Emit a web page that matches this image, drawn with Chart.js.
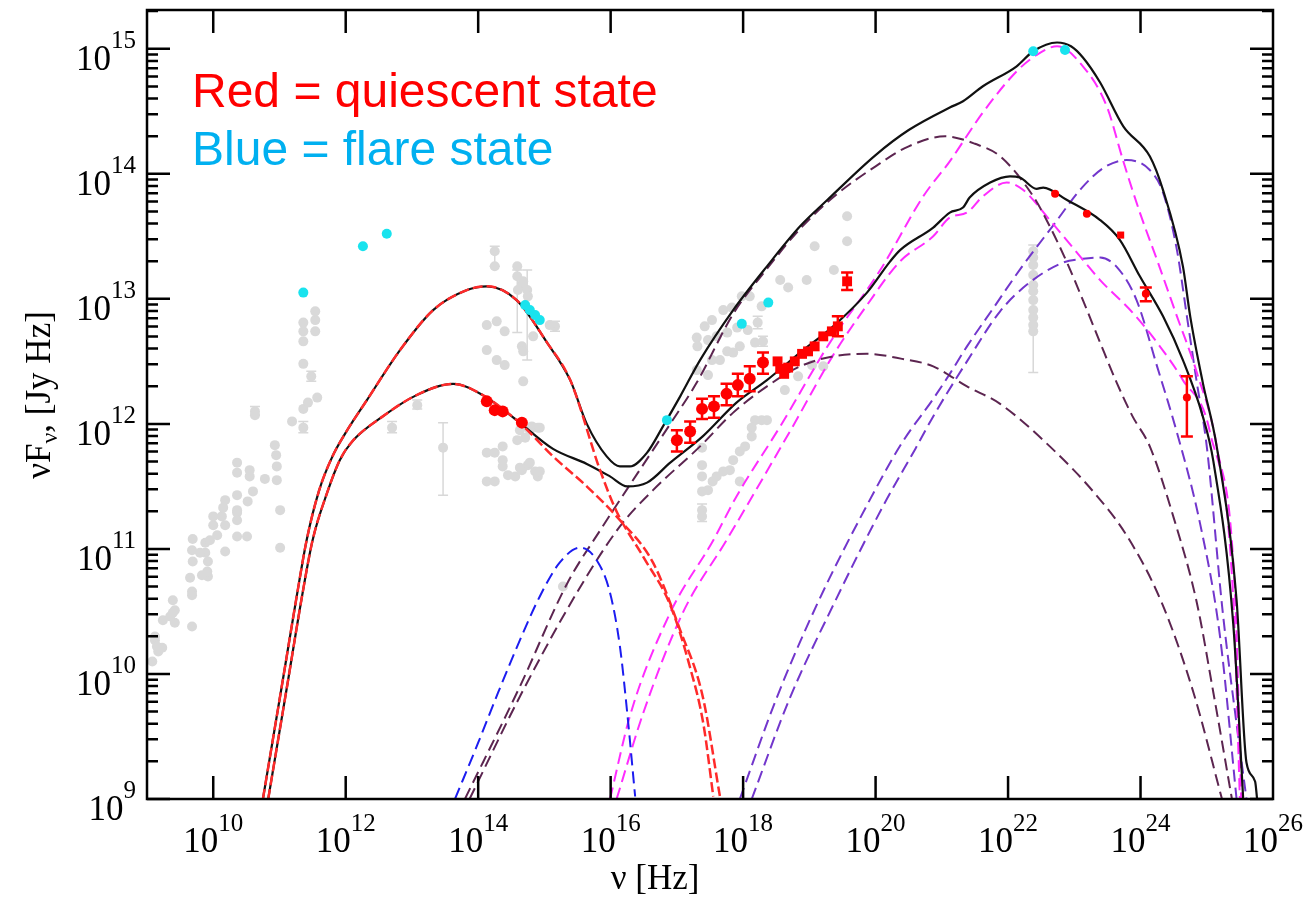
<!DOCTYPE html>
<html lang="en">
<head>
<meta charset="UTF-8">
<title>SED</title>
<style>
  body { margin: 0; background: #fff; }
  #wrap { width: 1306px; height: 897px; }
</style>
</head>
<body>
<div id="wrap"><canvas id="sed" width="1306" height="897"></canvas></div>
<script src="https://cdn.jsdelivr.net/npm/chart.js"></script>
<script>
// every value below is log10: nu in Hz, nuFnu in Jy Hz

// model curves
const flareTotNu = [10.75,11.05,11.26,11.41,11.6,11.8,12.0,12.32,12.82,13.32,13.83,14.13,14.58,15.04,15.39,15.64,15.94,16.14,16.29,16.55,16.79,17.05,17.35,17.85,18.36,18.86,19.27,20.0,20.5,21.12,21.32,21.62,22.13,22.38,22.74,22.95,23.13,23.39,23.74,24.14,24.34,24.64,24.75,24.94,25.15,25.45,25.6,25.73,25.76];
const flareTotF  = [9.0,9.95,10.62,11.07,11.47,11.74,11.93,12.19,12.59,12.91,13.07,13.1,12.99,12.65,12.35,12.0,11.74,11.66,11.66,11.77,11.98,12.22,12.51,12.91,13.26,13.58,13.79,14.15,14.35,14.53,14.58,14.7,14.86,14.98,15.05,15.02,14.93,14.73,14.38,14.14,13.87,13.26,12.86,12.33,11.82,10.59,9.29,9.14,9.0];

const quietTotNu = [10.83,11.13,11.34,11.5,11.72,11.91,12.1,12.56,13.07,13.62,14.07,14.58,15.13,15.64,15.99,16.25,16.55,16.9,17.39,17.9,18.36,18.86,19.36,19.87,20.22,20.37,20.87,21.12,21.32,21.42,21.73,22.03,22.18,22.43,22.53,22.89,23.39,23.69,23.99,24.34,24.64,24.94,25.1,25.4,25.55];
const quietTotF  = [9.0,9.95,10.62,11.07,11.45,11.71,11.86,12.06,12.23,12.32,12.23,12.03,11.8,11.68,11.58,11.5,11.53,11.69,11.9,12.17,12.35,12.57,12.78,13.05,13.3,13.39,13.57,13.69,13.73,13.81,13.93,13.98,13.97,13.88,13.89,13.79,13.63,13.47,13.18,12.86,12.51,12.06,11.7,10.4,9.0];

const flareSynNu = [10.75,11.05,11.26,11.41,11.6,11.8,12.0,12.32,12.82,13.32,13.83,14.13,14.58,15.04,15.39,15.84,16.09,16.5,16.9,17.2,17.4,17.55];
const flareSynF  = [9.0,9.95,10.62,11.07,11.47,11.74,11.93,12.19,12.59,12.91,13.07,13.1,12.99,12.65,12.35,11.63,11.3,10.93,10.55,10.05,9.6,9.02];

const quietSynNu = [10.83,11.13,11.34,11.5,11.72,11.91,12.1,12.56,13.07,13.62,14.07,14.58,14.78,15.13,15.64,16.14,16.64,17.05,17.39,17.65];
const quietSynF  = [9.0,9.95,10.62,11.07,11.45,11.71,11.86,12.06,12.23,12.32,12.23,12.03,11.93,11.74,11.5,11.23,10.89,10.35,9.82,9.02];

const diskNu = [13.65,14.0,14.3,14.63,14.93,15.23,15.54,15.79,15.99,16.14,16.25,16.37];
const diskF  = [9.0,9.45,9.85,10.27,10.62,10.89,11.01,10.91,10.65,10.22,9.69,9.02];

const flareSscNu = [13.8,14.63,15.34,15.88,16.4,16.9,17.3,17.85,18.36,18.86,19.4,20.0,20.5,21.05,21.5,21.88,22.38,22.63,22.89,23.13,23.39,23.64,23.88,24.14,24.5,24.85,25.1,25.38];
const flareSscF  = [9.0,9.9,10.72,11.18,11.6,12.0,12.33,12.88,13.24,13.56,13.83,14.06,14.22,14.3,14.24,14.14,13.82,13.58,13.29,12.99,12.65,12.33,12.06,11.82,11.25,10.57,9.85,9.0];

const quietSscNu = [13.87,14.63,15.49,16.14,16.64,17.35,17.85,18.36,18.86,19.36,19.87,20.4,20.87,21.38,21.88,22.63,23.3,23.8,24.32,24.8,25.23];
const quietSscF  = [9.0,9.82,10.65,11.18,11.47,11.82,12.09,12.3,12.46,12.54,12.56,12.52,12.46,12.3,12.16,11.82,11.45,11.1,10.57,9.85,9.0];

const flareEcNu = [15.99,16.3,16.9,17.55,17.9,18.56,19.31,20.07,20.72,21.12,21.62,22.13,22.43,22.74,23.13,23.49,23.74,23.99,24.25,24.55,24.85,25.15,25.43,25.52];
const flareEcF  = [9.0,9.68,10.49,11.07,11.42,11.98,12.65,13.23,13.82,14.1,14.49,14.82,14.95,15.02,14.86,14.54,14.1,13.69,13.31,12.86,12.41,11.82,10.6,9.0];

const quietEcNu = [16.09,16.5,17.09,17.75,18.75,19.36,19.87,20.37,20.87,21.12,21.38,21.62,21.98,22.23,22.63,23.04,23.39,23.88,24.25,24.64,25.05,25.4,25.5];
const quietEcF  = [9.0,9.7,10.49,11.07,11.98,12.55,12.95,13.3,13.5,13.65,13.69,13.82,13.93,13.87,13.63,13.37,13.15,12.89,12.65,12.35,11.93,10.6,9.0];

const flareEc2Nu = [17.95,18.5,19.11,19.87,20.4,20.87,21.12,21.38,21.77,22.2,22.7,23.1,23.45,23.79,24.14,24.34,24.55,24.7,24.85,25.0,25.24,25.45,25.6];
const flareEc2F  = [9.0,9.8,10.55,11.35,11.85,12.2,12.4,12.62,12.92,13.25,13.6,13.88,14.05,14.11,14.03,13.85,13.39,12.86,12.33,11.82,10.5,9.6,9.0];

const quietEc2Nu = [18.13,18.7,19.36,20.12,20.6,20.87,21.38,21.88,22.3,22.83,23.13,23.39,23.65,23.94,24.25,24.55,24.9,25.2,25.45];
const quietEc2F  = [9.0,9.8,10.55,11.35,11.8,12.06,12.5,12.9,13.12,13.29,13.32,13.33,13.25,12.99,12.46,11.93,11.2,10.3,9.0];

// archival data (grey)
const grayNu = [9.08,9.12,9.15,9.17,9.23,9.12,9.24,9.39,9.42,9.35,9.42,9.39,9.68,9.65,9.68,9.68,9.83,9.92,9.91,9.92,9.88,9.80,9.69,9.68,9.69,9.88,9.95,10.06,10.00,10.00,10.13,10.15,10.18,10.18,10.18,10.36,10.51,10.36,10.36,10.36,10.36,10.52,10.60,10.55,10.55,10.36,10.36,10.93,10.95,10.96,10.96,10.78,11.01,11.01,10.63,10.63,11.19,11.36,11.36,11.43,11.57,11.48,11.36,11.36,11.36,11.36,11.54,11.54,11.54,12.70,13.08,13.47,
  14.25,14.25,14.59,14.59,14.66,14.60,14.74,14.75,14.68,14.13,14.28,14.40,14.13,14.28,14.40,14.66,14.68,14.68,15.16,15.08,14.83,14.81,14.90,14.59,14.71,14.13,14.25,14.37,14.37,14.37,14.45,14.56,14.66,14.75,14.86,14.90,14.13,14.25,14.63,14.78,14.93,14.63,14.78,14.93,15.28,
  19.57,19.57,19.08,19.37,18.96,18.56,18.68,17.98,18.10,18.28,18.22,17.70,17.83,17.53,17.42,18.07,17.91,17.76,17.60,17.47,17.30,17.31,18.18,18.30,17.95,17.76,17.85,17.65,17.53,17.30,17.47,18.63,18.83,19.04,19.21,18.18,18.28,18.36,18.13,18.13,18.03,17.95,17.85,17.80,17.70,17.60,17.54,17.38,17.38,17.38,17.38,17.47,17.38,17.38,17.95,
  22.38,22.38,22.38,22.38,22.38,22.38,22.38,22.38,22.38,22.38,22.38];
const grayF = [10.1,10.27,10.22,10.18,10.21,10.30,10.43,10.49,10.41,10.46,10.51,10.59,10.38,10.77,10.66,10.63,10.79,10.78,10.82,10.90,10.97,10.97,10.90,10.99,11.08,11.05,11.07,11.11,11.19,11.26,11.26,11.33,11.39,11.19,10.98,11.10,11.10,11.29,11.23,11.43,11.61,11.38,11.46,11.58,11.63,11.69,11.31,11.83,11.75,11.66,11.55,11.56,11.31,11.01,12.10,12.07,12.02,11.97,12.12,12.17,12.21,12.38,12.48,12.66,12.74,12.81,12.74,12.83,12.90,11.97,12.15,11.81,
  13.38,13.26,13.26,13.18,13.11,13.07,13.07,13.02,13.14,12.79,12.82,12.74,12.59,12.51,12.47,12.62,12.58,12.34,12.78,12.79,12.70,11.98,11.97,11.87,11.89,11.77,11.77,11.82,11.71,11.66,11.59,11.58,11.63,11.67,11.62,11.58,11.54,11.54,11.95,11.95,11.97,11.65,11.69,11.62,10.70,
  13.66,13.46,13.42,13.23,13.15,13.15,13.09,13.02,13.02,12.94,12.81,12.91,12.93,12.83,12.78,12.75,12.77,12.73,12.70,12.67,12.69,12.62,12.65,12.66,12.62,12.58,12.57,12.51,12.51,12.43,12.39,12.27,12.38,12.47,12.46,12.03,12.03,12.03,11.97,11.90,11.82,11.78,11.71,11.63,11.62,11.58,11.54,11.81,11.67,11.58,11.46,11.47,11.31,11.26,11.54,
  13.38,13.33,13.27,13.19,13.11,13.06,12.99,12.91,12.85,12.79,12.74];
const grayErrNu = [12.70,13.08,13.47,14.59,14.74,14.25,15.16,11.48,11.36,22.38,18.22,18.30,17.38,10.63];
const grayErrLo = [11.93,12.12,11.43,12.73,12.51,13.26,12.74,12.34,11.93,12.41,12.76,12.62,11.22,12.07];
const grayErrHi = [12.02,12.19,12.01,13.23,13.23,13.42,12.82,12.42,12.02,13.43,12.86,12.70,11.36,12.14];

// flare state (cyan)
const flareNu = [11.36,12.26,12.62,14.71,14.78,14.86,14.93,16.85,17.98,18.38,22.38,22.86];
const flareF  = [13.05,13.42,13.52,12.95,12.91,12.87,12.83,12.03,12.80,12.97,14.98,14.99];

// quiescent state (red)
const quietNu = [14.13,14.25,14.37,14.66,17.0,17.2,17.38,17.56,17.75,17.92,18.10,18.30];
const quietF  = [12.18,12.11,12.10,12.01,11.87,11.94,12.12,12.14,12.24,12.31,12.36,12.49];
const quietLo = [null,null,null,null,11.78,11.85,12.04,12.05,12.15,12.22,12.26,12.40];
const quietHi = [null,null,null,null,11.95,12.02,12.20,12.22,12.32,12.40,12.46,12.57];
const quietSqNu = [18.52,18.56,18.62,18.68,18.78,18.89,18.98,19.08,19.21,19.34,19.43,19.57];
const quietSqF  = [12.50,12.44,12.40,12.45,12.50,12.56,12.58,12.62,12.70,12.74,12.78,13.14];
const quietSqLo = [null,null,null,null,null,null,null,null,null,null,12.70,13.07];
const quietSqHi = [null,null,null,null,null,null,null,null,null,null,12.86,13.21];
const quietGamNu = [22.71,23.19,24.08,24.70];
const quietGamF  = [13.84,13.68,13.04,12.21];
const quietGamLo = [null,null,12.98,11.90];
const quietGamHi = [null,null,13.09,12.38];
const quietGamSqNu = [23.70];
const quietGamSqF  = [13.51];

// axes
const xLabelExps = [10,12,14,16,18,20,22,24,26];
const yLabelExps = [9,10,11,12,13,14,15];
const yMinor = [2,3,4,5,6,7,8,9];

const pts = (nu, f) => nu.map((v, i) => ({x: 10 ** v, y: 10 ** f[i]}));

const curve = (nu, f, color, dash, width, order) => ({
  data: pts(nu, f), showLine: true, borderColor: color, borderWidth: width,
  borderDash: dash, pointRadius: 0, fill: false,
  cubicInterpolationMode: 'monotone', order: order
});
const dots = (nu, f, color, r, style, order) => ({
  data: pts(nu, f), showLine: false, backgroundColor: color, borderColor: color,
  borderWidth: 0, pointRadius: r, pointStyle: style, order: order
});

const DASH = [12, 6];
const errSets = [
  {nu: quietNu, lo: quietLo, hi: quietHi, color: '#ff0000', w: 2.5, cap: 6},
  {nu: quietSqNu, lo: quietSqLo, hi: quietSqHi, color: '#ff0000', w: 2.5, cap: 6},
  {nu: quietGamNu, lo: quietGamLo, hi: quietGamHi, color: '#ff0000', w: 2.5, cap: 6}
];

function drawErr(chart, set) {
  const {ctx, scales: {x, y}} = chart;
  ctx.save();
  ctx.strokeStyle = set.color;
  ctx.lineWidth = set.w;
  set.nu.forEach((v, i) => {
    if (set.lo[i] == null) return;
    const px = x.getPixelForValue(10 ** v);
    const p1 = y.getPixelForValue(10 ** set.lo[i]);
    const p2 = y.getPixelForValue(10 ** set.hi[i]);
    ctx.beginPath();
    ctx.moveTo(px, p1); ctx.lineTo(px, p2);
    ctx.moveTo(px - set.cap, p1); ctx.lineTo(px + set.cap, p1);
    ctx.moveTo(px - set.cap, p2); ctx.lineTo(px + set.cap, p2);
    ctx.stroke();
  });
  ctx.restore();
}

const errorBars = {
  id: 'errorBars',
  beforeDatasetsDraw(chart) {
    drawErr(chart, {nu: grayErrNu, lo: grayErrLo, hi: grayErrHi, color: '#d8d8d8', w: 1.5, cap: 5});
  },
  afterDatasetsDraw(chart) {
    errSets.forEach(s => drawErr(chart, s));
  }
};

function power(ctx, base, exp, x, y, align, dy) {
  ctx.font = '35px "Liberation Serif"';
  const wb = ctx.measureText(base).width;
  ctx.font = '25px "Liberation Serif"';
  const we = ctx.measureText(exp).width;
  let left = align === 'center' ? x - (wb + we) / 2 : x - wb - we;
  ctx.font = '35px "Liberation Serif"';
  ctx.fillText(base, left, y);
  ctx.font = '25px "Liberation Serif"';
  ctx.fillText(exp, left + wb, y - dy);
}

const frame = {
  id: 'frame',
  afterDraw(chart) {
    const {ctx, chartArea: a, scales: {x, y}} = chart;
    ctx.save();
    ctx.strokeStyle = '#000';
    ctx.fillStyle = '#000';
    ctx.lineWidth = 2.5;
    ctx.strokeRect(a.left, a.top, a.right - a.left, a.bottom - a.top);
    ctx.beginPath();
    xLabelExps.forEach(e => {
      const px = x.getPixelForValue(10 ** e);
      if (px > a.right - 1) return;
      ctx.moveTo(px, a.bottom); ctx.lineTo(px, a.bottom - 23);
      ctx.moveTo(px, a.top); ctx.lineTo(px, a.top + 23);
    });
    yLabelExps.forEach(e => {
      const py = y.getPixelForValue(10 ** e);
      ctx.moveTo(a.left, py); ctx.lineTo(a.left + 23, py);
      ctx.moveTo(a.right, py); ctx.lineTo(a.right - 23, py);
      yMinor.forEach(m => {
        const v = m * 10 ** e;
        if (v >= y.max) return;
        const q = y.getPixelForValue(v);
        ctx.moveTo(a.left, q); ctx.lineTo(a.left + 11, q);
        ctx.moveTo(a.right, q); ctx.lineTo(a.right - 11, q);
      });
    });
    ctx.stroke();

    ctx.textBaseline = 'alphabetic';
    xLabelExps.forEach(e => {
      power(ctx, '10', String(e), x.getPixelForValue(10 ** e), a.bottom + 53, 'center', 21);
    });
    yLabelExps.forEach(e => {
      const py = y.getPixelForValue(10 ** e);
      power(ctx, '10', String(e), 136, py + 21, 'right', 22);
    });

    // axis titles
    ctx.font = '35px "Liberation Serif"';
    ctx.textAlign = 'center';
    ctx.fillText('\u03bd [Hz]', 655, 889);
    ctx.textAlign = 'left';
    ctx.save();
    ctx.translate(50, 395);
    ctx.rotate(-Math.PI / 2);
    const big = '35px "Liberation Serif"', small = '24px "Liberation Serif"';
    ctx.font = big; const w1 = ctx.measureText('\u03bdF').width;
    ctx.font = small; const w2 = ctx.measureText('\u03bd').width;
    ctx.font = big; const w3 = ctx.measureText(', [Jy Hz]').width;
    let sx = -(w1 + w2 + w3) / 2;
    ctx.font = big; ctx.fillText('\u03bdF', sx, 0); sx += w1;
    ctx.font = small; ctx.fillText('\u03bd', sx, 7); sx += w2;
    ctx.font = big; ctx.fillText(', [Jy Hz]', sx, 0);
    ctx.restore();

    // state key
    ctx.font = '48px "Liberation Sans"';
    ctx.fillStyle = '#ff0000';
    ctx.fillText('Red = quiescent state', 192, 107);
    ctx.fillStyle = '#00b0f0';
    ctx.fillText('Blue = flare state', 192, 165);
    ctx.restore();
  }
};

new Chart(document.getElementById('sed'), {
  type: 'scatter',
  data: {
    datasets: [
      dots(quietNu, quietF, '#ff0000', 6, 'circle', 1),
      dots(quietSqNu, quietSqF, '#ff0000', 7, 'rect', 1),
      dots(quietGamNu, quietGamF, '#ff0000', 4, 'circle', 1),
      dots(quietGamSqNu, quietGamSqF, '#ff0000', 5, 'rect', 1),
      dots(flareNu, flareF, '#19e3ee', 5, 'circle', 2),
      curve(flareSynNu, flareSynF, '#ff2a2a', [10, 4], 2.5, 3),
      curve(quietSynNu, quietSynF, '#ff2a2a', [10, 4], 2.5, 3),
      curve(flareTotNu, flareTotF, '#111111', [], 2.2, 4),
      curve(quietTotNu, quietTotF, '#111111', [], 2.2, 4),
      curve(diskNu, diskF, '#1c1cf0', DASH, 2, 5),
      curve(flareSscNu, flareSscF, '#5c2550', DASH, 2, 5),
      curve(quietSscNu, quietSscF, '#5c2550', DASH, 2, 5),
      curve(flareEcNu, flareEcF, '#ff2cff', DASH, 2, 5),
      curve(quietEcNu, quietEcF, '#ff2cff', DASH, 2, 5),
      curve(flareEc2Nu, flareEc2F, '#7236cc', DASH, 2, 5),
      curve(quietEc2Nu, quietEc2F, '#7236cc', DASH, 2, 5),
      dots(grayNu, grayF, '#d9d9d9', 5, 'circle', 9)
    ]
  },
  options: {
    responsive: false,
    animation: false,
    events: [],
    layout: { padding: { left: 147, top: 10, right: 33, bottom: 98 } },
    plugins: { legend: { display: false }, tooltip: { enabled: false } },
    scales: {
      x: { type: 'logarithmic', min: 1e9, max: 1e26, display: false },
      y: { type: 'logarithmic', min: 1e9, max: 10 ** 15.31, display: false }
    }
  },
  plugins: [errorBars, frame]
});
</script>
</body>
</html>
